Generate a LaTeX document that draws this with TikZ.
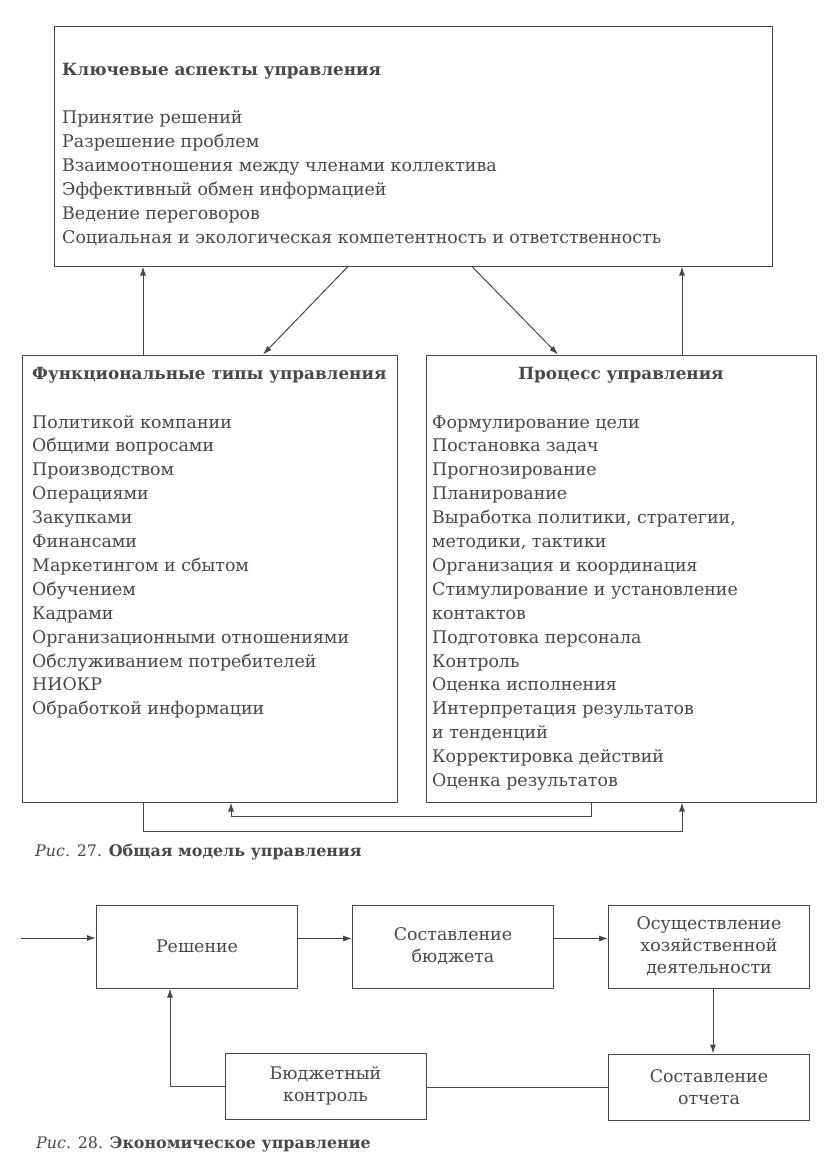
\documentclass[tikz,border=0pt]{standalone}
\usepackage{fontspec}
\setmainfont{DejaVu Serif}
\usetikzlibrary{arrows.meta,positioning,calc}
\definecolor{ink}{RGB}{72,72,72}

\begin{document}
\begin{tikzpicture}[x=1pt, y=-1pt, >={Latex[length=9pt,width=6pt]},
    every node/.style={text=ink},
    frame/.style={draw=ink, line width=1pt, inner sep=0pt},
    item/.style={anchor=base west, inner sep=0pt, font=\fontsize{17.4}{24}\selectfont},
    head/.style={item, font=\fontsize{16.8}{24}\selectfont\bfseries},
    cell/.style={frame, align=center, minimum width=201pt, font=\fontsize{17.4}{22}\selectfont},
    link/.style={draw=ink, line width=1pt}]

    \useasboundingbox (0,0) rectangle (825,1157);

    % Fig. 27 -- general model
    \node[frame, minimum width=718pt, minimum height=240pt] (aspects) at (413,146) {};
    \node[frame, minimum width=375pt, minimum height=447pt] (funct) at (209.5,578.5) {};
    \node[frame, minimum width=390pt, minimum height=447pt] (process) at (621,578.5) {};

    % key aspects
    \node[head] (asp-h) at (62,75) {Ключевые аспекты управления};
    \foreach \t [count=\i from 0] in {Принятие решений, Разрешение проблем,
        Взаимоотношения между членами коллектива, Эффективный обмен информацией,
        Ведение переговоров,
        Социальная и экологическая компетентность и ответственность} {
        \node[item] (asp-\i) at (62,{123+24*\i}) {\t};
    }

    % functional types
    \node[head] (fun-h) at (32,379) {Функциональные типы управления};
    \foreach \t [count=\i from 0] in {Политикой компании, Общими вопросами,
        Производством, Операциями, Закупками, Финансами, Маркетингом и сбытом,
        Обучением, Кадрами, Организационными отношениями,
        Обслуживанием потребителей, НИОКР, Обработкой информации} {
        \node[item] (fun-\i) at (32,{428+23.9*\i}) {\t};
    }

    % management process
    \node[head, anchor=base] (pro-h) at (621,379) {Процесс управления};
    \foreach \t [count=\i from 0] in {Формулирование цели, Постановка задач,
        Прогнозирование, Планирование, {Выработка политики, стратегии,},
        {методики, тактики}, Организация и координация,
        Стимулирование и установление, контактов, Подготовка персонала,
        Контроль, Оценка исполнения, Интерпретация результатов, и тенденций,
        Корректировка действий, Оценка результатов} {
        \node[item] (pro-\i) at (432,{428+23.9*\i}) {\t};
    }

    % connectors
    \coordinate (xl) at (143,0);
    \coordinate (xr) at (682,0);
    \draw[link,->] (funct.north -| xl) -- (aspects.south -| xl);
    \draw[link,->] (process.north -| xr) -- (aspects.south -| xr);
    \draw[link,->] ([xshift=-65pt]aspects.south) -- ([xshift=53.5pt]funct.north);
    \draw[link,->] ([xshift=59pt]aspects.south) -- ([xshift=-63pt]process.north);
    \draw[link,->] ([xshift=-30pt]process.south) -- ++(0,14) -| ([xshift=21.5pt]funct.south);
    \draw[link,->] (funct.south -| xl) -- ++(0,29) -| (process.south -| xr);

    \node[item, font=\fontsize{15.9}{18}\selectfont] (cap27) at (35,856)
        {\textit{Рис.} 27. \textbf{Общая модель управления}};

    % Fig. 28 -- economic management
    \node[cell, minimum height=83pt] (decide) at (197,946.5) {Решение};
    \node[cell, minimum height=83pt, right=54pt of decide] (budget) {Составление\\бюджета};
    \node[cell, minimum height=83pt, right=54pt of budget] (operate)
        {Осуществление\\хозяйственной\\деятельности};
    \node[cell, minimum height=66pt, below=65pt of operate] (report) {Составление\\отчета};
    \node[cell, minimum height=66pt] (control) at (325.5,1086) {Бюджетный\\контроль};

    \coordinate (in) at (21,938);
    \draw[link,->] (in) -- (in -| decide.west);
    \draw[link,->] ([yshift=8pt]decide.east) -- ([yshift=8pt]budget.west);
    \draw[link,->] ([yshift=8pt]budget.east) -- ([yshift=8pt]operate.west);
    \draw[link,->] ([xshift=4pt]operate.south) -- ([xshift=4pt]report.north);
    \draw[link] (report.west) -- (report.west -| control.east);
    \draw[link,->] (control.west) -| ([xshift=-27pt]decide.south);

    \node[item, font=\fontsize{15.9}{18}\selectfont] (cap28) at (36,1148)
        {\textit{Рис.} 28. \textbf{Экономическое управление}};

\end{tikzpicture}
\end{document}
